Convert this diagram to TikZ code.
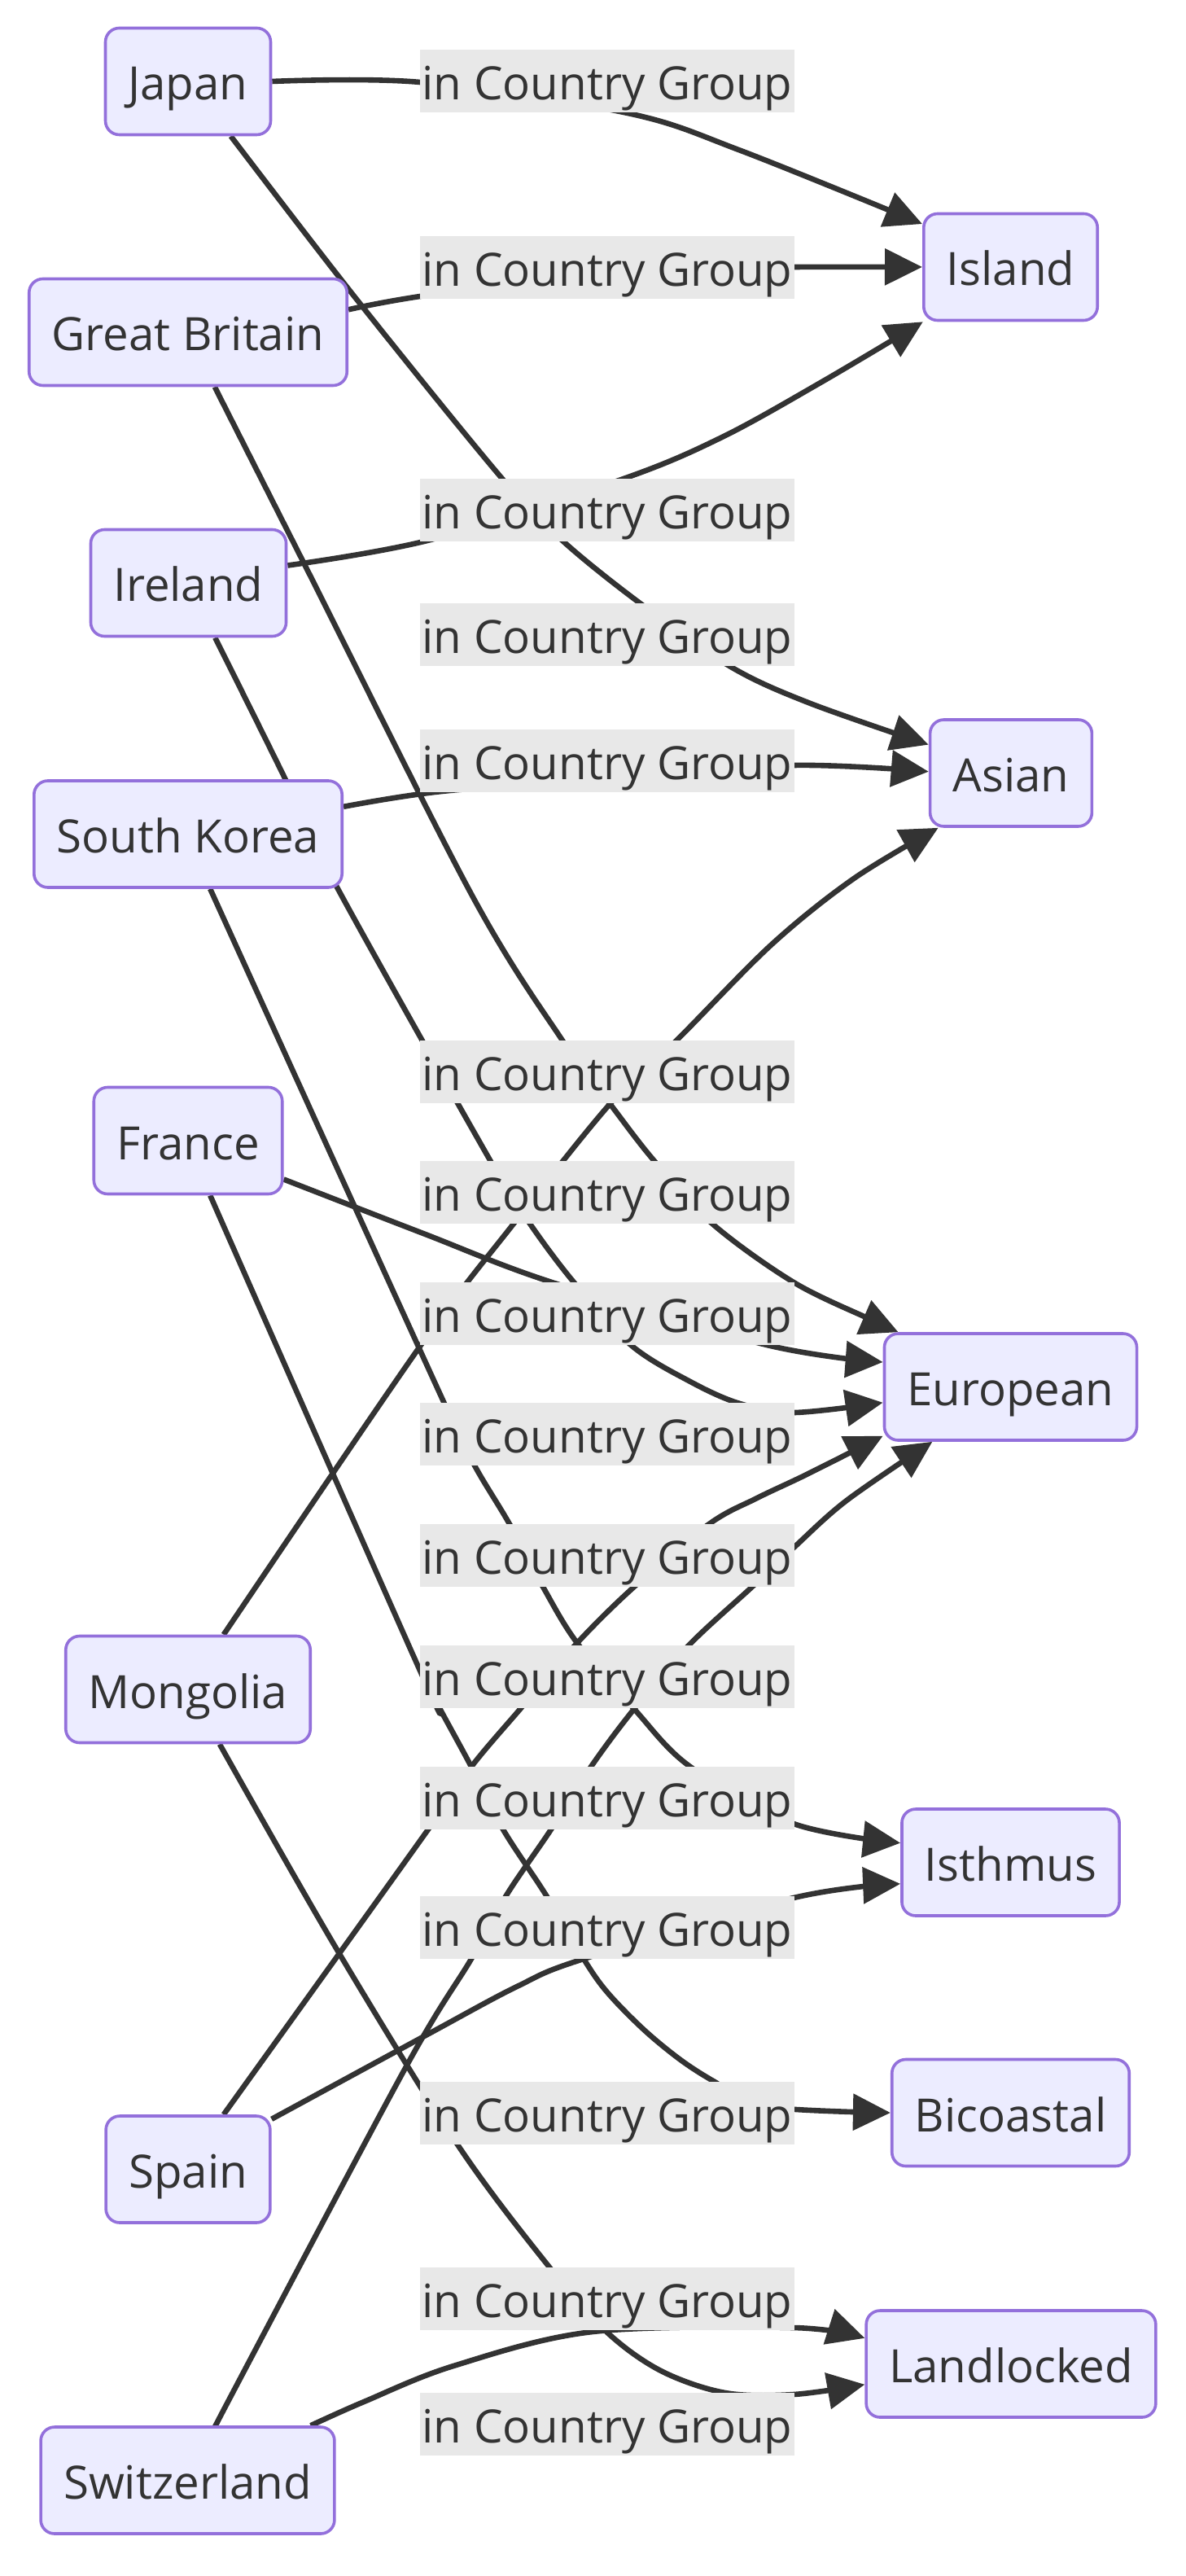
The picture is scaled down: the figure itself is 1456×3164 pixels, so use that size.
\documentclass[tikz,border=0pt]{standalone}
\usepackage{fontspec}
\setmainfont{Open Sans}
\usetikzlibrary{arrows.meta}
\definecolor{nodefill}{HTML}{ECECFF}
\definecolor{nodeline}{HTML}{9370DB}
\definecolor{inkgray}{HTML}{333333}
\definecolor{labelfill}{HTML}{E8E8E8}
\pgfdeclarelayer{edges}
\pgfsetlayers{edges,main}
\begin{document}
\begin{tikzpicture}[x=0.25pt,y=-0.25pt,font=\fontsize{14.1}{17}\selectfont,text=inkgray,
    entity/.style={draw=nodeline,fill=nodefill,line width=0.9pt,rounded corners=4.25pt,minimum height=32.75pt,inner xsep=7pt,inner ysep=0pt,text height=11.5pt,text depth=0pt},
    rel/.style={fill=labelfill,inner sep=0pt,minimum width=115pt,minimum height=19.25pt,text height=11.5pt,text depth=0pt},
    link/.style={draw=inkgray,line width=1.65pt,-{Triangle[length=11.5pt,width=11pt]}}]
  \useasboundingbox (0,0) rectangle (1456,3164);
  \node[entity] (japan) at (231,100) {Japan};
  \node[entity] (britain) at (231,408) {Great Britain};
  \node[entity] (ireland) at (231.5,716) {Ireland};
  \node[entity] (korea) at (231,1024.5) {South Korea};
  \node[entity] (france) at (231,1401) {France};
  \node[entity] (mongolia) at (231,2075) {Mongolia};
  \node[entity] (spain) at (231,2664.5) {Spain};
  \node[entity] (swiss) at (230.5,3046.5) {Switzerland};
  \node[entity] (island) at (1241.5,328) {Island};
  \node[entity] (asian) at (1242,949.5) {Asian};
  \node[entity] (european) at (1241.5,1703.5) {European};
  \node[entity] (isthmus) at (1241.5,2287.5) {Isthmus};
  \node[entity] (bicoastal) at (1241.5,2595) {Bicoastal};
  \node[entity] (landlocked) at (1242,2903.5) {Landlocked};
  \node[rel] (lab1) at (746,100) {in Country Group};
  \node[rel] (lab2) at (746,328.5) {in Country Group};
  \node[rel] (lab3) at (746,626.5) {in Country Group};
  \node[rel] (lab4) at (746,779.5) {in Country Group};
  \node[rel] (lab5) at (746,934.5) {in Country Group};
  \node[rel] (lab6) at (746,1316) {in Country Group};
  \node[rel] (lab7) at (746,1464.5) {in Country Group};
  \node[rel] (lab8) at (746,1613.5) {in Country Group};
  \node[rel] (lab9) at (746,1761.5) {in Country Group};
  \node[rel] (lab10) at (746,1910.5) {in Country Group};
  \node[rel] (lab11) at (746,2059.5) {in Country Group};
  \node[rel] (lab12) at (746,2208.5) {in Country Group};
  \node[rel] (lab13) at (746,2367) {in Country Group};
  \node[rel] (lab14) at (746,2595.5) {in Country Group};
  \node[rel] (lab15) at (746,2823.5) {in Country Group};
  \node[rel] (lab16) at (746,2977.5) {in Country Group};
  \begin{pgfonlayer}{edges}
    \draw[link] plot[smooth,tension=0.55] coordinates {(japan.east) (516,101) (771,139) (910,185) (island.154)};
    \draw[link] plot[smooth,tension=0.55] coordinates {(britain.8) (516,364) (760,330) (975,328) (island.west)};
    \draw[link] plot[smooth,tension=0.55] coordinates {(ireland.10) (529,663) (766,588) (887,537) (1008,470) (island.212)};
    \draw[link] plot[smooth,tension=0.55] coordinates {(japan.-52) (436,365) (617,588) (692,665) (785,740) (896,818) (993,863) (asian.161)};
    \draw[link] plot[smooth,tension=0.55] coordinates {(korea.10) (543,972) (760,955) (975,940) (asian.179)};
    \draw[link] plot[smooth,tension=0.55] coordinates {(britain.-64) (375,695) (580,1100) (691,1278) (748,1354) (803,1425) (875,1503) (975,1575) (1068,1620) (european.154)};
    \draw[link] plot[smooth,tension=0.55] coordinates {(ireland.-64) (351,958) (412,1086) (602,1425) (651,1503) (705,1575) (775,1652) (848,1697) (909,1724) (975,1735) (european.187)};
    \draw[link] plot[smooth,tension=0.55] coordinates {(france.-22) (520,1515) (678,1575) (942,1652) (european.169)};
    \draw[link] plot[smooth,tension=0.55] coordinates {(mongolia.57) (515,1655) (631,1503) (751,1354) (831,1278) (948,1160) (1049,1079) (asian.217)};
    \draw[link] plot[smooth,tension=0.55] coordinates {(korea.-68) (546,1724) (583,1800) (626,1872) (667,1949) (709,2018) (779,2099) (848,2170) (975,2240) (isthmus.170)};
    \draw[link] plot[smooth,tension=0.55] coordinates {(france.-68) (516,2052) (540,2098) (579,2170) (618,2247) (671,2328) (717,2406) (746,2447) (791,2493) (836,2530) (878,2557) (935,2587) (bicoastal.west)};
    \draw[link] plot[smooth,tension=0.55] coordinates {(mongolia.-60) (413,2393) (562,2634) (676,2786) (745,2864) (812,2912) (891,2939) (975,2941) (landlocked.188)};
    \draw[link] plot[smooth,tension=0.55] coordinates {(spain.57) (526,2247) (579,2170) (640,2098) (709,2018) (779,1949) (871,1872) (930,1840) (991,1811) (european.201)};
    \draw[link] plot[smooth,tension=0.55] coordinates {(spain.31) (523,2500) (635,2440) (717,2406) (975,2331) (isthmus.191)};
    \draw[link] plot[smooth,tension=0.55] coordinates {(swiss.62) (280,2950) (498,2540) (579,2406) (622,2328) (677,2247) (726,2170) (779,2099) (846,2021) (924,1949) (975,1901) (1040,1843) (european.215)};
    \draw[link] plot[smooth,tension=0.55] coordinates {(swiss.24) (447,2950) (557,2906) (728,2864) (975,2859) (landlocked.170)};
  \end{pgfonlayer}
\end{tikzpicture}
\end{document}
